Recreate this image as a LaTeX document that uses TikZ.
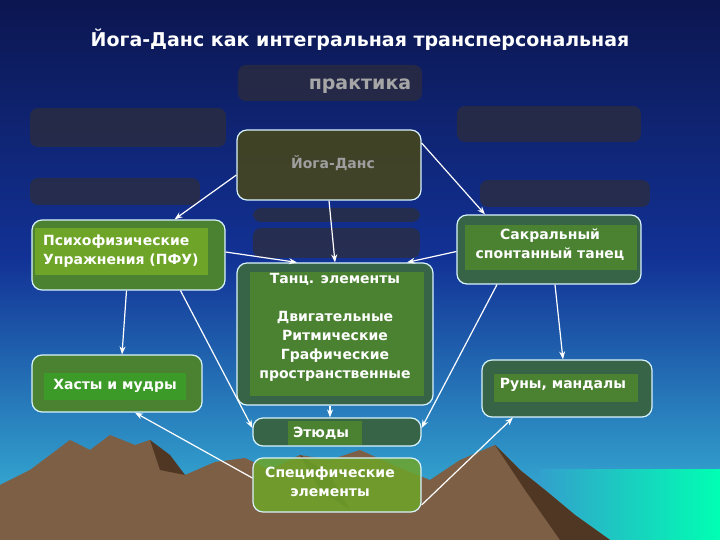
\documentclass[tikz,border=0pt]{standalone}
\usepackage{fontspec}
\setmainfont{DejaVu Sans}
\usetikzlibrary{arrows.meta,calc}
\definecolor{navy}{RGB}{12,22,80}
\definecolor{midb}{RGB}{18,50,150}
\definecolor{skyc}{RGB}{50,160,205}
\definecolor{brownm}{RGB}{125,95,70}
\definecolor{darkbr}{RGB}{80,55,35}
\definecolor{ghost}{RGB}{45,45,60}
\definecolor{olive}{RGB}{70,70,30}
\definecolor{gA}{RGB}{75,130,50}
\definecolor{gB}{RGB}{110,165,40}
\definecolor{tealg}{RGB}{55,100,70}
\begin{document}
\begin{tikzpicture}[x=0.5pt,y=-0.5pt,
  txt/.style={font=\bfseries\fontsize{7}{9.5}\selectfont,text=white,align=center},
  ghostbox/.style={fill=ghost,fill opacity=0.75,rounded corners=4pt,draw=none},
  box/.style={draw=white!85!cyan,line width=0.6pt,rounded corners=5pt,inner sep=0pt},
  arr/.style={draw=white,line width=0.6pt,-{Stealth[length=4pt,width=3pt]}}]
\useasboundingbox (0,0) rectangle (720,540);
\shade[top color=navy,bottom color=midb] (0,0) rectangle (720,260);
\shade[top color=midb,bottom color=skyc] (0,259) rectangle (720,480);
\fill[skyc] (0,479) rectangle (720,540);
\shade[left color=skyc,right color=cyan!70!green] (540,470) rectangle (720,540);
\fill[brownm] (0,540) -- (0,485) -- (30,470) -- (50,455) -- (70,440) -- (90,450) -- (110,435) -- (135,445) -- (150,440) -- (185,475) -- (215,462) -- (245,458) -- (270,470) -- (300,455) -- (330,460) -- (360,450) -- (400,468) -- (430,480) -- (460,460) -- (495,445) -- (520,470) -- (545,490) -- (575,515) -- (610,540) -- cycle;
\fill[darkbr] (150,440) -- (170,455) -- (185,475) -- (160,470) -- cycle;
\fill[darkbr] (495,445) -- (520,470) -- (545,490) -- (575,515) -- (610,540) -- (560,540) -- (525,490) -- cycle;
\fill[darkbr] (300,455) -- (330,475) -- (350,510) -- (320,490) -- cycle;
\node[font=\bfseries\fontsize{9.5}{11}\selectfont,text=white] (title) at (360,40) {Йога-Данс как интегральная трансперсональная};
\fill[ghostbox] (238,65) rectangle (422,101);
\node[font=\bfseries\fontsize{9.5}{11}\selectfont,text=gray!70] (prak) at (360,86) {практика};
\fill[ghostbox] (30,108) rectangle (226,147);
\fill[ghostbox] (457,106) rectangle (641,142);
\fill[ghostbox] (30,178) rectangle (200,205);
\fill[ghostbox] (480,180) rectangle (650,207);
\fill[ghostbox] (253,208) rectangle (420,222);
\fill[ghostbox] (253,228) rectangle (420,258);
\node[box,fill=olive,fill opacity=0.9,minimum width=92pt,minimum height=35pt] (yoga) at (329,165) {};
\node[font=\bfseries\fontsize{7}{9}\selectfont,text=gray!75] at (333,163) {Йога-Данс};
\node[box,fill=gA,minimum width=96.5pt,minimum height=35pt] (pfu) at (128.5,255) {};
\fill[gB] (35,228) rectangle (208,275);
\node[txt,align=left,anchor=west] at (36,251) {Психофизические\\Упражнения (ПФУ)};
\node[box,fill=tealg,minimum width=92pt,minimum height=34.5pt] (sakr) at (549,249.5) {};
\fill[gA] (465,225) rectangle (637,270);
\node[txt] at (550,245) {Сакральный\\спонтанный танец};
\node[box,fill=tealg,minimum width=98pt,minimum height=71pt] (tanc) at (335,334) {};
\fill[gA] (250,272) rectangle (424,396);
\node[txt] at (335,279) {Танц. элементы};
\node[txt] at (335,346) {Двигательные\\Ритмические\\Графические\\пространственные};
\node[box,fill=gA,minimum width=85pt,minimum height=28.5pt] (hast) at (117,383.5) {};
\fill[gA!80!green] (44,373) rectangle (186,400);
\node[txt] at (115,386) {Хасты и мудры};
\node[box,fill=tealg,minimum width=85pt,minimum height=28.5pt] (run) at (567,388.5) {};
\fill[gA] (494,374) rectangle (638,402);
\node[txt] at (563,385) {Руны, мандалы};
\node[box,fill=tealg,minimum width=84pt,minimum height=14pt] (etud) at (337,432) {};
\fill[gA] (288,421) rectangle (362,445);
\node[txt] at (321,433) {Этюды};
\node[box,fill=gB,fill opacity=0.85,minimum width=84pt,minimum height=27pt] (spec) at (337,485) {};
\node[txt] at (330,482) {Специфические\\элементы};
\draw[arr] ([yshift=-5pt]yoga.west) -- ([xshift=23pt]pfu.north);
\draw[arr] (yoga.south) -- (tanc.north);
\draw[arr] ([yshift=11pt]yoga.east) -- ([xshift=-32pt]sakr.north);
\draw[arr] ([yshift=1.5pt]pfu.east) -- ([xshift=-19pt]tanc.north);
\draw[arr] ([yshift=-1pt]sakr.west) -- ([xshift=36pt]tanc.north);
\draw[arr] ([xshift=-1pt]pfu.south) -- ([xshift=2.5pt]hast.north);
\draw[arr] ([xshift=26pt]pfu.south) -- ([yshift=2pt]etud.west);
\draw[arr] ([xshift=-26pt]sakr.south) -- ([yshift=2pt]etud.east);
\draw[arr] ([xshift=3pt]sakr.south) -- ([xshift=-2pt]run.north);
\draw[arr] ([xshift=-2.5pt]tanc.south) -- ([xshift=-3.5pt]etud.north);
\draw[arr] ([yshift=3.5pt]spec.west) -- ([xshift=9pt]hast.south);
\draw[arr] ([yshift=-10pt]spec.east) -- ([xshift=-27pt]run.south);
\end{tikzpicture}
\end{document}
